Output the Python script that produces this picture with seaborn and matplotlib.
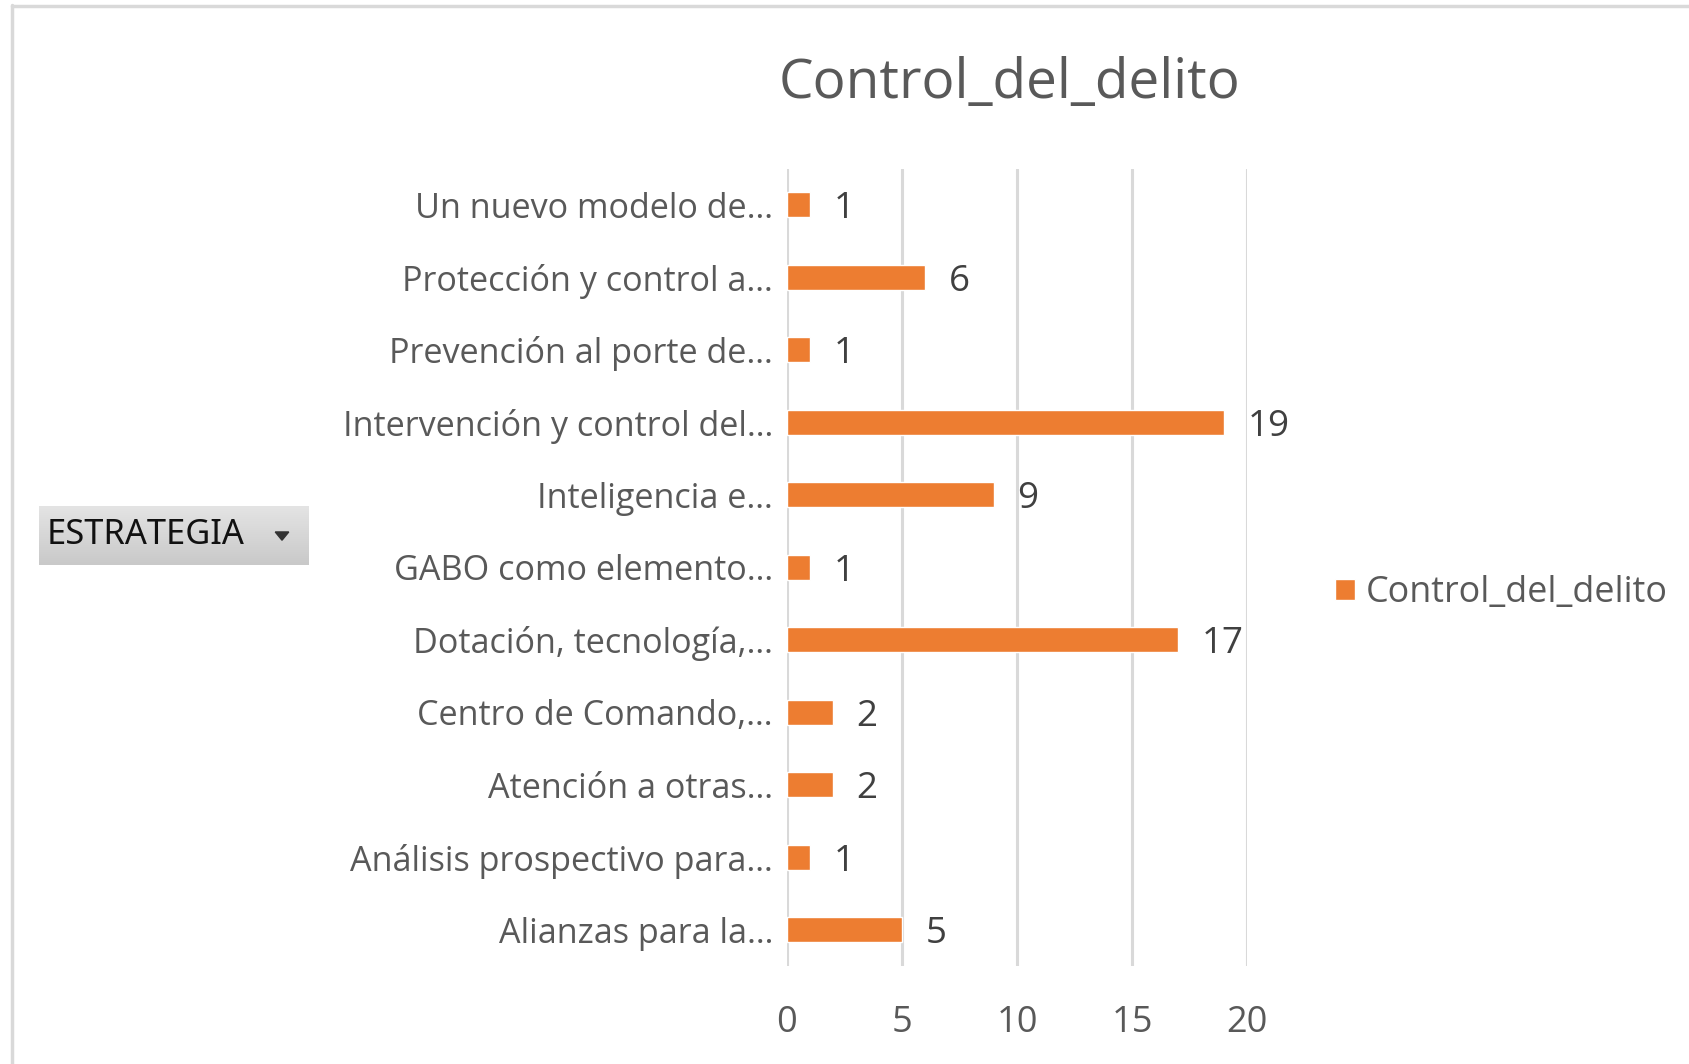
import matplotlib
matplotlib.use("Agg")
import matplotlib.pyplot as plt
import seaborn as sns
import pandas as pd
import numpy as np
from matplotlib.lines import Line2D
from matplotlib.patches import Polygon

# ---- data ----
categories = [
    "Un nuevo modelo de…",
    "Protección y control a…",
    "Prevención al porte de…",
    "Intervención y control del…",
    "Inteligencia e…",
    "GABO como elemento…",
    "Dotación, tecnología,…",
    "Centro de Comando,…",
    "Atención a otras…",
    "Análisis prospectivo para…",
    "Alianzas para la…",
]
values = [1, 6, 1, 19, 9, 1, 17, 2, 2, 1, 5]
series_name = "Control_del_delito"
x_ticks = [0, 5, 10, 15, 20]
filter_label = "ESTRATEGIA"

W, H = 1689, 1064
BAR = "#ED7D31"
TXT = "#595959"

sns.set_theme(style="white")
plt.rcParams["font.family"] = ["Open Sans", "DejaVu Sans"]

fig = plt.figure(figsize=(W / 100, H / 100), dpi=100)

def fx(px):
    return px / W

def fy(py):
    return 1 - py / H

# frame border
fig.add_artist(Line2D([fx(12), fx(12)], [fy(5), fy(H + 5)], color="#d9d9d9", lw=2.5, transform=fig.transFigure))
fig.add_artist(Line2D([fx(12), fx(W + 5)], [fy(6), fy(6)], color="#d9d9d9", lw=2.5, transform=fig.transFigure))

left, right, top, bottom = 787, 1247, 168.5, 966
ax = fig.add_axes([fx(left), fy(bottom), fx(right - left), (bottom - top) / H])

df = pd.DataFrame({"ESTRATEGIA": categories, series_name: values})
sns.barplot(data=df, y="ESTRATEGIA", x=series_name, orient="h", color=BAR,
            saturation=1, width=0.345, ax=ax, label=series_name)

ax.set_xlim(0, 20)
ax.set_xticks(x_ticks)
ax.grid(axis="x", color="#d9d9d9", lw=2.2)
ax.grid(axis="y", visible=False)
ax.set_axisbelow(True)
for s in ax.spines.values():
    s.set_visible(False)
ax.set_xlabel("")
ax.set_ylabel("")
ax.tick_params(axis="x", length=0, pad=28, labelsize=26, labelcolor=TXT)
ax.tick_params(axis="y", length=0, pad=10, labelsize=24.6, labelcolor=TXT)

for cont in ax.containers:
    anns = ax.bar_label(cont, padding=17, fontsize=26.5, color="#404040")
    for a in anns:
        a.set_va("center_baseline")

handles, labels = ax.get_legend_handles_labels()
if ax.get_legend() is not None:
    ax.get_legend().remove()

# title
fig.text(fx(1009), fy(84), series_name, ha="center", va="center", fontsize=39.5, color=TXT)

# legend
leg = fig.legend(handles, labels, loc="center left", bbox_to_anchor=(fx(1303), fy(593)),
                 frameon=False, fontsize=25.8, handlelength=0.55, handleheight=0.55,
                 handletextpad=0.3, labelcolor=TXT)

# filter button
bax = fig.add_axes([fx(39), fy(565), fx(309 - 39), (565 - 506) / H])
grad = np.linspace(0, 1, 100).reshape(-1, 1)
bax.imshow(grad, aspect="auto", cmap=matplotlib.colors.LinearSegmentedColormap.from_list(
    "g", ["#e4e4e4", "#c9c9c9"]), extent=[0, 1, 0, 1], origin="upper")
bax.set_xlim(0, 1)
bax.set_ylim(0, 1)
bax.axis("off")
bax.text(0.03, 0.5, filter_label, ha="left", va="center", fontsize=24.8, color="#111111",
         family=["Noto Sans", "DejaVu Sans"])
bax.add_patch(Polygon([[0.875, 0.56], [0.925, 0.56], [0.9, 0.42]], closed=True, color="#333333"))

fig.savefig("out.png", dpi=100)
